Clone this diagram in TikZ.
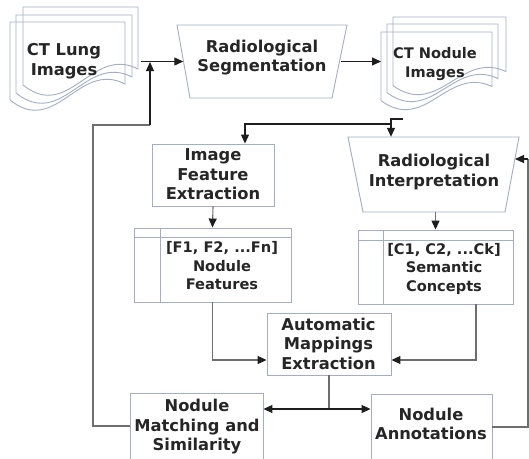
\documentclass[tikz,border=0pt]{standalone}
\usepackage{fontspec}
\setmainfont{DejaVu Sans}
\usetikzlibrary{arrows.meta,calc}
\definecolor{boxc}{HTML}{A3AEC4}
\definecolor{linec}{HTML}{6E6E6E}
\definecolor{darkc}{HTML}{1E1E1E}
\definecolor{textc}{HTML}{262626}
\tikzset{
  bigtxt/.style={font=\fontsize{16.3}{19.5}\selectfont\bfseries, text=textc, align=center, inner sep=0pt},
  smalltxt/.style={font=\fontsize{14.6}{18.5}\selectfont\bfseries, text=textc, align=center, inner sep=0pt},
  procbox/.style={draw=boxc, line width=0.9pt, rectangle, inner sep=0pt},
  anchorbox/.style={rectangle, inner sep=0pt},
  docline/.style={draw=boxc, line width=0.9pt},
  conn/.style={draw=linec, line width=1.1pt},
  topconn/.style={draw=darkc, line width=1.1pt},
  arr/.style={-{Triangle[length=9pt,width=8pt,color=darkc]}},
}
\newcommand{\docshape}[4]{% L T W H
  \draw[docline] (#1,#2) -- ++(#3,0) -- ++(0,0.62*#4)
    .. controls ($(#1,#2)+(0.6*#3,0.38*#4)$) and ($(#1,#2)+(0.4*#3,1.15*#4)$) .. ($(#1,#2)+(0,0.78*#4)$) -- cycle;}
\begin{document}
\begin{tikzpicture}[x=1pt,y=-1pt]
\useasboundingbox (0,0) rectangle (529,458);
\clip (0,0) rectangle (529,458);
\fill[white] (0,0) rectangle (529,458);

% CT Lung Images stack
\docshape{23}{7}{115}{100}
\docshape{16}{15}{116}{100}
\docshape{10}{22}{115}{100}
\node[bigtxt] (lung) at (64,61) {CT Lung\\Images};

% Radiological Segmentation
\draw[docline] (177,25) -- (347,25) -- (332,98) -- (190,98) -- cycle;
\node[anchorbox, minimum width=157pt, minimum height=73pt] (seg) at (262,61.5) {};
\node[bigtxt] (segtxt) at (262,57.5) {Radiological\\Segmentation};

% CT Nodule Images stack
\docshape{393}{17}{113}{88}
\docshape{387}{24}{111}{88}
\docshape{381}{32}{111}{88}
\node[smalltxt] (nod) at (435,64) {CT Nodule\\Images};

% Image Feature Extraction
\node[procbox, minimum width=122pt, minimum height=62pt] (ife) at (213,175) {};
\node[bigtxt] (ifetxt) at (213,174.5) {Image\\Feature\\Extraction};

% Radiological Interpretation
\draw[docline] (348,137) -- (519,137) -- (505,212) -- (363,212) -- cycle;
\node[anchorbox, minimum width=156pt, minimum height=75pt] (interp) at (433.5,174.5) {};
\node[bigtxt] (interptxt) at (434,172) {Radiological\\Interpretation};

% Nodule Features table
\node[procbox, minimum width=157pt, minimum height=74pt] (nf) at (212.5,265) {};
\draw[docline] ($(nf.north west)+(27,0)$) -- ($(nf.south west)+(27,0)$);
\draw[docline] ($(nf.north west)+(0,10)$) -- ($(nf.north east)+(0,10)$);
\node[smalltxt] (nftxt) at (222,266) {[F1, F2, ...Fn]\\Nodule\\Features};

% Semantic Concepts table
\node[procbox, minimum width=155pt, minimum height=74pt] (sc) at (435.5,267) {};
\draw[docline] ($(sc.north west)+(26,0)$) -- ($(sc.south west)+(26,0)$);
\draw[docline] ($(sc.north west)+(0,11)$) -- ($(sc.north east)+(0,11)$);
\node[smalltxt] (sctxt) at (444,268.5) {[C1, C2, ...Ck]\\Semantic\\Concepts};

% Automatic Mappings Extraction
\node[procbox, minimum width=124pt, minimum height=62pt] (ame) at (329,344) {};
\node[bigtxt] (ametxt) at (328.5,343.5) {Automatic\\Mappings\\Extraction};

% Nodule Matching and Similarity
\node[procbox, minimum width=133pt, minimum height=80pt] (nms) at (196.5,433) {};
\node[bigtxt] (nmstxt) at (197,427) {Nodule\\Matching and\\Similarity};

% Nodule Annotations
\node[procbox, minimum width=121pt, minimum height=80pt] (na) at (431.5,434) {};
\node[bigtxt] (natxt) at (431,424) {Nodule\\Annotations};

% coordinates
\coordinate (lungout) at (141,61.5);
\coordinate (lungjoin) at (150,62);
\coordinate (fbcorner) at (150,125);
\coordinate (nodin) at (381,61.5);
\coordinate (nodout) at (403,119);
\coordinate (split) at (391,124);
\coordinate (ifein) at ($(ife.north)+(32,0)$);
\coordinate (interpin) at (515,159);
\coordinate (interpfb) at (528,159);
\coordinate (amesplit) at (329,409);

% connectors
\draw[topconn, arr] (lungout) -- (seg.west);
\draw[conn] (nms.west |- 0,426) -- (93,426) -- (93,125) -- (fbcorner);
\draw[topconn, arr] (fbcorner) -- (lungjoin);
\draw[topconn, arr] (seg.east) -- (nodin);
\draw[topconn] (nodout) -| (split);
\draw[topconn, arr] (split) -- (split |- interp.north);
\draw[topconn, arr] (split) -| (ifein);
\draw[conn, arr] (ife.south) -- (nf.north);
\draw[conn, arr] (interp.south -| sc.north) -- (sc.north);
\draw[conn, arr] (nf.south) |- ($(ame.west)+(0,16)$);
\draw[conn, arr] ($(sc.south)+(40.5,0)$) |- ($(ame.east)+(0,16)$);
\draw[conn] (ame.south) -- (amesplit);
\draw[topconn, arr] (amesplit) -- (amesplit -| nms.east);
\draw[topconn, arr] (amesplit) -- (amesplit -| na.west);
\draw[conn] (na.east |- 0,427) -- (interpfb |- 0,427) -- (interpfb);
\draw[topconn, arr] (interpfb) -- (interpin);
\end{tikzpicture}
\end{document}
